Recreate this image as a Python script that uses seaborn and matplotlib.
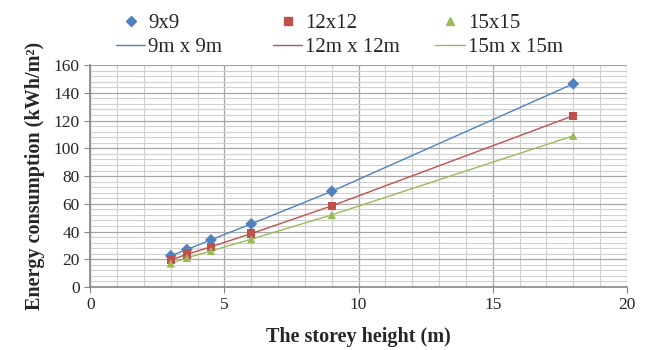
import numpy as np
import pandas as pd
import seaborn as sns
import matplotlib.pyplot as plt
from matplotlib.ticker import MultipleLocator
from matplotlib.lines import Line2D

# Dati
altezza = [3, 3.6, 4.5, 6, 9, 18]
e_9x9 = [22.5, 27, 34, 45.5, 69, 146.5]
e_12x12 = [19.5, 23.5, 29, 38.5, 58.5, 123.5]
e_15x15 = [17, 21, 26, 34.5, 52, 109]
serie = ['9x9', '12x12', '15x15']
linee = ['9m x 9m', '12m x 12m', '15m x 15m']
colori = ['#4F81BD', '#C0504D', '#9BBB59']
marcatori = ['D', 's', '^']

df = pd.DataFrame({
    'h': altezza * 3,
    'e': e_9x9 + e_12x12 + e_15x15,
    'serie': np.repeat(serie, len(altezza)),
})

sns.set_style('white')
plt.rcParams['font.family'] = ['Liberation Serif', 'DejaVu Serif']

fig, ax = plt.subplots(figsize=(6.49, 3.5), dpi=100)
fig.subplots_adjust(left=0.139, right=0.966, bottom=0.18, top=0.814)

# linee (tendenza)
sns.lineplot(data=df, x='h', y='e', hue='serie', palette=colori, lw=1,
             legend=False, ax=ax, zorder=3)
# punti
for s, c, m in zip(serie, colori, marcatori):
    d = df[df['serie'] == s]
    sns.scatterplot(data=d, x='h', y='e', color=c, marker=m, s=36,
                    edgecolor='none', legend=False, ax=ax, zorder=4)

ax.set_xlim(0, 20)
ax.set_ylim(0, 160)
ax.xaxis.set_major_locator(MultipleLocator(5))
ax.xaxis.set_minor_locator(MultipleLocator(1))
ax.yaxis.set_major_locator(MultipleLocator(20))
ax.yaxis.set_minor_locator(MultipleLocator(4))
ax.grid(which='major', color='#A6A6A6', lw=0.9)
ax.grid(which='minor', color='#D0D0D0', lw=0.8)
ax.set_axisbelow(True)
for sp in ['top', 'right']:
    ax.spines[sp].set_visible(False)
for sp in ['left', 'bottom']:
    ax.spines[sp].set_color('#868686')
    ax.spines[sp].set_linewidth(1.2)
ax.tick_params(axis='both', which='major', length=4, color='#868686',
               labelsize=12.5, direction='out', left=True, bottom=True)

ax.set_xlabel('The storey height (m)', fontsize=14.5, fontweight='bold', labelpad=10)
ax.set_ylabel('Energy consumption (kWh/m²)', fontsize=14.5, fontweight='bold', labelpad=6)

# legenda: una colonna per serie (marcatore sopra, linea sotto)
pos_x = [0.150, 0.392, 0.642]
for s, l, c, m, x in zip(serie, linee, colori, marcatori, pos_x):
    h = [Line2D([], [], ls='none', marker=m, color=c, markersize=5.5),
         Line2D([], [], color=c, lw=1)]
    fig.legend(h, [s, l], loc='upper left', bbox_to_anchor=(x, 1.015),
               frameon=False, fontsize=15, handlelength=1.4, handletextpad=0.15,
               labelspacing=0.2)

plt.savefig('out.png', dpi=100)
